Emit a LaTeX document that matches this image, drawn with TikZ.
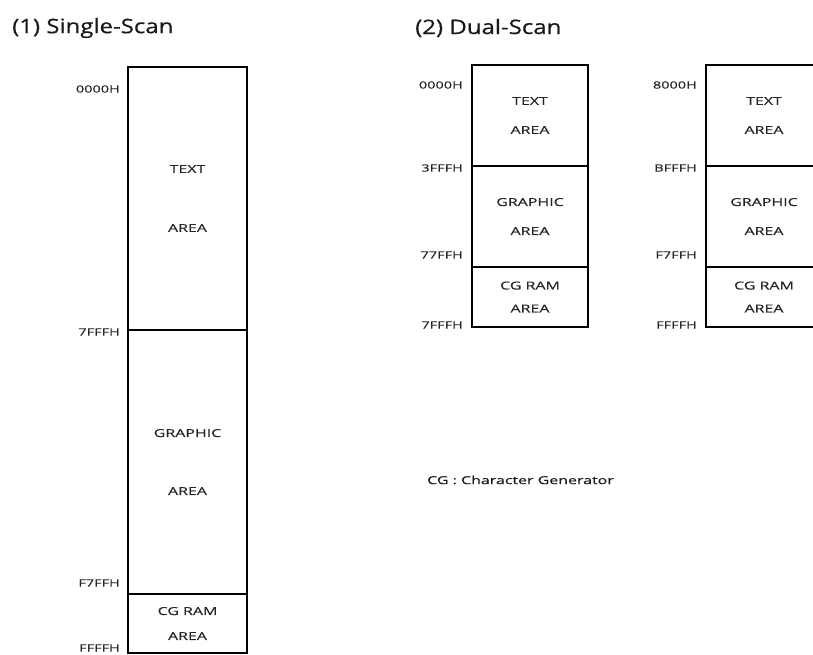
\documentclass[tikz,border=0pt]{standalone}
\usepackage{fontspec}
\setmainfont{Open Sans}
\newfontfamily\memfont[FakeStretch=1.45, FakeBold=0.4]{Open Sans}
\newfontfamily\headfont[FakeStretch=1.2, FakeBold=0.5]{Open Sans}
\usetikzlibrary{positioning}
\tikzset{
  area/.style = {rectangle, draw=black, line width=1.2pt, align=center, outer sep=0pt, inner sep=0pt, font=\memfont\fontsize{11}{13}\selectfont, text=black!85},
  addr/.style = {anchor=east, inner sep=0pt, font=\memfont\fontsize{10}{12}\selectfont, text=black!85},
  heading/.style = {anchor=west, inner sep=0pt, font=\headfont\fontsize{20}{24}\selectfont, text=black!90},
  note/.style = {anchor=west, inner sep=0pt, font=\memfont\fontsize{11}{13}\selectfont, text=black!90}
}

\begin{document}
\begin{tikzpicture}[x=1pt, y=-1pt]
\clip (0,0) rectangle (813,655);

% Headings
\node[heading] (single) at (12,28) {(1) Single-Scan};
\node[heading] (dual) at (415,28) {(2) Dual-Scan};

% Single-scan map
\node[area, minimum width=119pt, minimum height=263pt, anchor=north west] (stext) at (128,67) {TEXT\\[46pt]AREA};
\node[area, minimum width=119pt, minimum height=264pt, below=0pt of stext] (sgraph) {GRAPHIC\\[45pt]AREA};
\node[area, minimum width=119pt, minimum height=59pt, below=0pt of sgraph] (scg) {CG RAM\\[12pt]AREA};

\node[addr] (s0000) at ([xshift=-8pt, yshift=-22pt]stext.north west) {0000H};
\node[addr] (s7fff) at ([xshift=-8pt, yshift=-2pt]sgraph.north west) {7FFFH};
\node[addr] (sf7ff) at ([xshift=-8pt, yshift=11pt]scg.north west) {F7FFH};
\node[addr] (sffff) at ([xshift=-8pt, yshift=5pt]scg.south west) {FFFFH};

% Dual-scan, lower half
\node[area, minimum width=116pt, minimum height=101pt, anchor=north west] (ltext) at (472,65) {TEXT\\[16pt]AREA};
\node[area, minimum width=116pt, minimum height=101pt, below=0pt of ltext] (lgraph) {GRAPHIC\\[16pt]AREA};
\node[area, minimum width=116pt, minimum height=60pt, below=0pt of lgraph] (lcg) {CG RAM\\[10pt]AREA};

\node[addr] (l0000) at ([xshift=-9pt, yshift=-20pt]ltext.north west) {0000H};
\node[addr] (l3fff) at ([xshift=-9pt, yshift=-2pt]lgraph.north west) {3FFFH};
\node[addr] (l77ff) at ([xshift=-9pt, yshift=12pt]lcg.north west) {77FFH};
\node[addr] (l7fff) at ([xshift=-9pt, yshift=2pt]lcg.south west) {7FFFH};

% Dual-scan, upper half
\node[area, minimum width=116pt, minimum height=101pt, anchor=north west] (utext) at (706,65) {TEXT\\[16pt]AREA};
\node[area, minimum width=116pt, minimum height=101pt, below=0pt of utext] (ugraph) {GRAPHIC\\[16pt]AREA};
\node[area, minimum width=116pt, minimum height=60pt, below=0pt of ugraph] (ucg) {CG RAM\\[10pt]AREA};

\node[addr] (u8000) at ([xshift=-9pt, yshift=-20pt]utext.north west) {8000H};
\node[addr] (ubfff) at ([xshift=-9pt, yshift=-2pt]ugraph.north west) {BFFFH};
\node[addr] (uf7ff) at ([xshift=-9pt, yshift=12pt]ucg.north west) {F7FFH};
\node[addr] (uffff) at ([xshift=-9pt, yshift=2pt]ucg.south west) {FFFFH};

% Legend
\node[note] (legend) at (427,480) {CG : Character Generator};

\end{tikzpicture}
\end{document}
